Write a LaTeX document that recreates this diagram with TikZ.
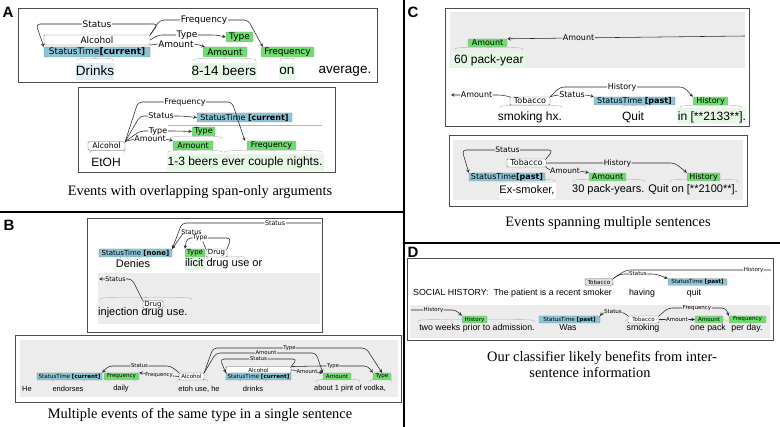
\documentclass[tikz,border=0pt]{standalone}
\usepackage{fontspec}
\setmainfont{Liberation Serif}
\newfontfamily\wordfont{Liberation Sans}
\newfontfamily\labfont{DejaVu Sans}
\definecolor{stblue}{RGB}{140,197,216}
\definecolor{arggreen}{RGB}{112,220,112}
\definecolor{hlgreen}{RGB}{230,247,230}
\definecolor{hlblue}{RGB}{224,239,247}
\definecolor{panegray}{RGB}{236,236,236}
\tikzset{
  trig/.style={inner sep=0pt, rounded corners=1pt, draw=black!60, fill=white},
  stime/.style={inner sep=0pt, rounded corners=1pt, draw=black!45, fill=stblue},
  argm/.style={inner sep=0pt, rounded corners=1pt, draw=black!35, fill=arggreen},
  tobg/.style={trig, fill=black!12},
  fs/.style={font={\labfont\fontsize{#1}{#1}\selectfont}},
  ws/.style={font={\wordfont\fontsize{#1}{#1}\selectfont}, inner sep=0pt},
  box/.style 2 args={minimum width=#1, minimum height=#2},
  rel/.style={draw=black!85, line width=0.55pt, rounded corners=4pt},
  rellab/.style={fill=white, inner sep=0.6pt, text=black},
  rellabg/.style={rellab, fill=panegray},
  panel/.style={draw=black!70, line width=0.9pt},
  brc/.style={draw=black!30, line width=0.4pt},
  captxt/.style={font=\fontsize{14.4}{17}\selectfont, inner sep=0pt},
  letter/.style={font={\wordfont\bfseries\fontsize{15}{15}\selectfont}, inner sep=0pt}
}
\newcommand{\spanbrace}[3]{%
  \draw[brc] (#1,#3) .. controls (#1,#3-2.5) .. ({(#1+#2)/2-3},#3-2.5)
    .. controls ({(#1+#2)/2},#3-2.5) .. ({(#1+#2)/2},#3-4)
    .. controls ({(#1+#2)/2},#3-2.5) .. ({(#1+#2)/2+3},#3-2.5)
    .. controls (#2,#3-2.5) .. (#2,#3);}
\begin{document}
\begin{tikzpicture}[x=1pt, y=-1pt, >=stealth]
\useasboundingbox (0,0) rectangle (780,427);
\draw[line width=1.2pt] (404,0) -- (404,427);
\draw[line width=1.2pt] (0,212) -- (404,212);
\draw[line width=1.2pt] (404,243) -- (780,243);
\node[letter] (lA) at (8,12) {A};
\node[letter] (lB) at (9,225) {B};
\node[letter] (lC) at (413,12) {C};
\node[letter] (lD) at (413,252) {D};

% A
\fill[hlblue] (76,63) rectangle (114,80);
\fill[hlgreen] (192,63) rectangle (257,80);
\fill[hlgreen] (279,63) rectangle (295,80);
\draw[panel] (18,8) rectangle (377,82);
\spanbrace{77}{113}{61} \spanbrace{193}{256}{61} \spanbrace{280}{294}{61}
\node[ws=13.5] (wDrinks) at (95,71) {Drinks};
\node[ws=13.5] (wBeers) at (224,71) {8-14 beers};
\node[ws=13.5] (wOn) at (287,71) {on};
\node[ws=13.5] (wAvg) at (345,71) {average.};
\node[trig, fs=9, box={106}{10}] (alcA) at (97,40) {Alcohol};
\node[stime, fs=9, box={106}{10}] (stA) at (97,52) {StatusTime\textbf{[current]}};
\node[argm, fs=9, box={27}{10}] (typeA) at (239.5,37) {Type};
\node[argm, fs=9, box={44}{10}] (amtA) at (225,52) {Amount};
\node[argm, fs=9, box={53}{10}] (freqA) at (287.5,52) {Frequency};
\draw[rel,->,fs=9] (alcA.north east) -- (158,24) -- node[rellab]{Status} (36,24) -- (stA.north west);
\draw[rel,->,fs=9] (alcA.north east) -- (160,20) -- node[rellab]{Frequency} (248,20) -- ([xshift=2pt]freqA.north west);
\draw[rel,->,fs=9] (alcA.east) -- (158,35) -- node[rellab,pos=0.5]{Type} (216,35) -- (typeA.west);
\draw[rel,->,fs=9] (alcA.south east) -- (156,44) -- node[rellab]{Amount} (196,44) -- ([xshift=2pt]amtA.north west);

\fill[hlgreen] (167,154) rectangle (324,171);
\draw[panel] (78,87) rectangle (335,172);
\spanbrace{90}{125}{153} \spanbrace{168}{222}{153} \spanbrace{224}{322}{153} \spanbrace{170}{222}{139}
\draw[brc, draw=stblue] (168,125) -- (322,125);
\node[ws=12] (wEtoh) at (106,162) {EtOH};
\node[ws=12] (wNights) at (245,162) {1-3 beers ever couple nights.};
\node[trig, fs=7.8, box={37}{8.5}] (alcA2) at (106.5,146) {Alcohol};
\node[stime, fs=8, box={95}{9}] (stA2) at (244.5,117.5) {StatusTime \textbf{[current]}};
\node[argm, fs=8, box={23}{9}] (typeA2) at (203.5,131.5) {Type};
\node[argm, fs=8, box={40}{9}] (amtA2) at (193,145.5) {Amount};
\node[argm, fs=8, box={49}{9}] (freqA2) at (271.5,145.5) {Frequency};
\draw[rel,->,fs=8] (alcA2.north east) -- (138,102) -- node[rellab]{Frequency} (232,102) -- ([xshift=-2pt]freqA2.north west);
\draw[rel,->,fs=8] (alcA2.north east) -- (140,116) -- node[rellab]{Status} (182,116) -- (stA2.west);
\draw[rel,->,fs=8] (alcA2.north east) -- (140,131) -- node[rellab]{Type} (176,131) -- (typeA2.west);
\draw[rel,->,fs=8] (alcA2.north east) -- (134,139) -- node[rellab]{Amount} (166,139) -- (amtA2.north west);
\node[captxt] (capA) at (200,192) {Events with overlapping span-only arguments};

% B
\fill[panegray] (98,273) rectangle (320,324);
\fill[hlgreen] (185,257) rectangle (205,270);
\draw[panel] (87,218) rectangle (322,332);
\spanbrace{120}{148}{259} \spanbrace{186}{205}{259} \spanbrace{207}{245}{259} \spanbrace{100}{192}{300}
\node[ws=11] (wDenies) at (133,264) {Denies};
\node[ws=11, anchor=west] (wIlicit) at (185,264) {ilicit drug use or};
\node[ws=11, anchor=west] (wInj) at (98,313) {injection drug use.};
\node[stime, fs=7, box={73}{8}] (stB) at (135.5,253) {StatusTime \textbf{[none]}};
\node[argm, fs=7, box={20}{8}] (typeB) at (195,253) {Type};
\node[trig, fs=7, box={21}{8}] (drugB) at (216.5,253) {Drug};
\node[trig, fs=7, box={20}{7.5}] (drugB2) at (153,304.5) {Drug};
\coordinate (edgeB1) at (321,223);
\coordinate (edgeB2) at (99,279);
\draw[rel,->,fs=6.3] (edgeB1) -- node[rellab,pos=0.33]{Status} (182,223) -- (stB.north east);
\draw[rel,->,fs=6.3] (drugB.north west) -- (199,232) -- node[rellab]{Status} (184,232) -- (stB.north east);
\draw[rel,->,fs=6.3] (drugB.north east) -- (231,238) -- node[rellab,pos=0.7]{Type} (187,238) -- (typeB.north west);
\draw[rel,<-,fs=6.3] (edgeB2) -- node[rellabg]{Status} (132,279) -- (drugB2.north west);

\fill[panegray] (20,340) rectangle (398,397);
\draw[panel] (15,335) rectangle (401,402);
\spanbrace{52}{85}{382} \spanbrace{108}{135}{382} \spanbrace{177}{208}{382} \spanbrace{240}{266}{382} \spanbrace{316}{360}{382} \spanbrace{370}{392}{382}
\node[ws=7.5] (wHe) at (27,389) {He};
\node[ws=7.5] (wEndorses) at (68,389) {endorses};
\node[ws=7.5] (wDaily) at (121,389) {daily};
\node[ws=7.5] (wEtohUse) at (199,389) {etoh use, he};
\node[ws=7.5] (wDrinksB) at (253,389) {drinks};
\node[ws=7.5] (wVodka) at (350,389) {about 1 pint of vodka,};
\node[stime, fs=5.6, box={65}{7}] (stB2) at (69.5,376.5) {StatusTime \textbf{[current]}};
\node[argm, fs=5.6, box={35}{7}] (freqB2) at (121.5,376.5) {Frequency};
\node[trig, fs=5.6, box={25}{7}] (alcB2) at (191.5,376.5) {Alcohol};
\node[trig, fs=5.6, box={65}{6.5}] (alcB3) at (258.5,370) {Alcohol};
\node[stime, fs=5.6, box={65}{7}] (stB3) at (258.5,376.5) {StatusTime \textbf{[current]}};
\node[argm, fs=5.6, box={28}{7}] (amtB2) at (337,376.5) {Amount};
\node[argm, fs=5.6, box={18}{7}] (typeB2) at (382,376.5) {Type};
\draw[rel,->,fs=5.3] (alcB2.north west) -- (171,366) -- node[rellabg]{Status} (108,366) -- (stB2.north east);
\draw[rel,->,fs=5.3] (alcB2.west) -- node[rellabg]{Frequency} (freqB2.north east);
\draw[rel,->,fs=5.3] (alcB2.north east) -- (213,348) -- node[rellabg]{Type} (366,348) -- (typeB2.north);
\draw[rel,->,fs=5.3] (alcB2.north east) -- (216,353) -- node[rellabg]{Amount} (316,353) -- (amtB2.north west);
\draw[rel,->,fs=5.3] (alcB3.north east) -- (297,359) -- node[rellabg]{Status} (220,359) -- (stB3.north west);
\draw[rel,->,fs=5.3] (alcB3.east) -- node[rellabg]{Amount} (amtB2.north west);
\draw[rel,->,fs=5.3] (alcB3.north east) -- (318,366) -- node[rellabg,pos=0.3]{Type} (368,366) -- (typeB2.north west);
\node[captxt] (capB) at (200,415) {Multiple events of the same type in a single sentence};

% C
\fill[panegray] (450,12) rectangle (745,68);
\fill[hlgreen] (452,52) rectangle (525,67);
\fill[hlgreen] (677,108) rectangle (746,124);
\draw[panel] (445,8) rectangle (749,126);
\spanbrace{455}{523}{50} \spanbrace{500}{562}{108} \spanbrace{622}{646}{108} \spanbrace{680}{742}{108}
\node[ws=12, anchor=west] (w60) at (454,60) {60 pack-year};
\node[ws=12] (wSmokingC) at (530,117) {smoking hx.};
\node[ws=12] (wQuitC) at (633,117) {Quit};
\node[ws=12] (wIn2133) at (712,117) {in [**2133**].};
\node[argm, fs=8, box={39}{8}] (amtC) at (487.5,43) {Amount};
\node[trig, fs=8, box={40}{8}] (tobC) at (530,101) {Tobacco};
\node[stime, fs=8, box={81}{8}] (stC) at (634.5,101) {StatusTime \textbf{[past]}};
\node[argm, fs=8, box={35}{8}] (histC) at (710.5,101) {History};
\coordinate (edgeC1) at (745,36);
\coordinate (edgeC2) at (451,95);
\draw[rel,->,fs=8] (edgeC1) -- node[rellabg,pos=0.7]{Amount} (amtC.north east);
\draw[rel,->,fs=8] (tobC.north west) -- (502,95) -- node[rellab]{Amount} (edgeC2);
\draw[rel,->,fs=8] (tobC.north east) -- (556,95) -- node[rellab]{Status} (588,95) -- (stC.north west);
\draw[rel,->,fs=8] (tobC.north east) -- (560,87) -- node[rellab]{History} (684,87) -- (histC.north west);

\fill[panegray] (453,140) rectangle (743,200);
\fill[white] (499,183) rectangle (556,199);
\draw[panel] (449,135) rectangle (747,206);
\spanbrace{500}{555}{182} \spanbrace{573}{645}{182} \spanbrace{670}{738}{182}
\node[ws=11] (wExsmoker) at (527,190) {Ex-smoker,};
\node[ws=11, anchor=west] (wPack) at (572,190) {30 pack-years. Quit on [**2100**].};
\node[trig, fs=8, box={39}{8}] (tobC2) at (526.5,163) {Tobacco};
\node[stime, fs=8, box={76}{8}] (stC2) at (507,177) {StatusTime\textbf{[past]}};
\node[argm, fs=8, box={37}{8}] (amtC2) at (607.5,177) {Amount};
\node[argm, fs=8, box={33}{8}] (histC2) at (703.5,177) {History};
\draw[rel,->,fs=7.6] (tobC2.north east) -- (553,150) -- node[rellabg]{Status} (462,150) -- (stC2.north west);
\draw[rel,->,fs=7.6] (tobC2.east) -- (560,163) -- node[rellabg]{History} (675,163) -- (histC2.north west);
\draw[rel,->,fs=7.6] (tobC2.south east) -- (550,171) -- node[rellabg]{Amount} (580,171) -- (amtC2.north west);
\node[captxt] (capC) at (608,223) {Events spanning multiple sentences};

% D
\fill[panegray] (410,305) rectangle (770,338);
\draw[panel] (407,258) rectangle (773,340);
\spanbrace{418}{535}{322} \spanbrace{560}{578}{322} \spanbrace{625}{662}{322} \spanbrace{690}{727}{322} \spanbrace{730}{765}{322}
\node[ws=8.8, anchor=west] (wSocial) at (413,293) {SOCIAL HISTORY:\ \ The patient is a recent smoker};
\node[ws=8.8] (wHaving) at (642,293) {having};
\node[ws=8.8] (wQuitD) at (694,293) {quit};
\node[ws=8.8] (wTwoWeeks) at (477,328) {two weeks prior to admission.};
\node[ws=8.8] (wWas) at (568,328) {Was};
\node[ws=8.8] (wSmokingD) at (643,328) {smoking};
\node[ws=8.8] (wOnePack) at (708,328) {one pack};
\node[ws=8.8] (wPerDay) at (747,328) {per day.};
\node[tobg, fs=5.6, box={28}{6.5}] (tobD) at (599,282) {Tobacco};
\node[stime, fs=5.6, box={59}{6.5}] (stD) at (697.5,282) {StatusTime \textbf{[past]}};
\node[argm, fs=5.6, box={25}{7}] (histD) at (474.5,319.5) {History};
\node[stime, fs=5.6, box={61}{7}] (stD2) at (569.5,319.5) {StatusTime \textbf{[past]}};
\node[trig, fs=5.6, box={31}{7}] (tobD2) at (643.5,319.5) {Tobacco};
\node[argm, fs=5.6, box={28}{7}] (amtD) at (709,319.5) {Amount};
\node[argm, fs=5.6, box={37}{7}] (freqD) at (747.5,319.5) {Frequency};
\coordinate (edgeD1) at (771,270);
\coordinate (edgeD2) at (411,310);
\draw[rel,->,fs=5.5] (tobD.north east) -- (620,274) -- node[rellab]{Status} (656,274) -- (stD.north west);
\draw[rel,fs=5.5] (tobD.north east) -- (626,270) -- node[rellab,pos=0.88]{History} (edgeD1);
\draw[rel,->,fs=5.5] (edgeD2) -- node[rellabg]{History} (456,310) -- (histD.north west);
\draw[rel,->,fs=5.5] (tobD2.north west) -- (623,312) -- node[rellabg]{Status} (603,312) -- (stD2.north east);
\draw[rel,->,fs=5.5] (tobD2.north east) -- (668,308) -- node[rellabg]{Frequency} (726,308) -- (freqD.north west);
\draw[rel,->,fs=5.5] (tobD2.east) -- node[rellabg]{Amount} (amtD.west);
\node[captxt] (capD1) at (602,358) {Our classifier likely benefits from inter-};
\node[captxt] (capD2) at (590,373) {sentence information};
\end{tikzpicture}
\end{document}
